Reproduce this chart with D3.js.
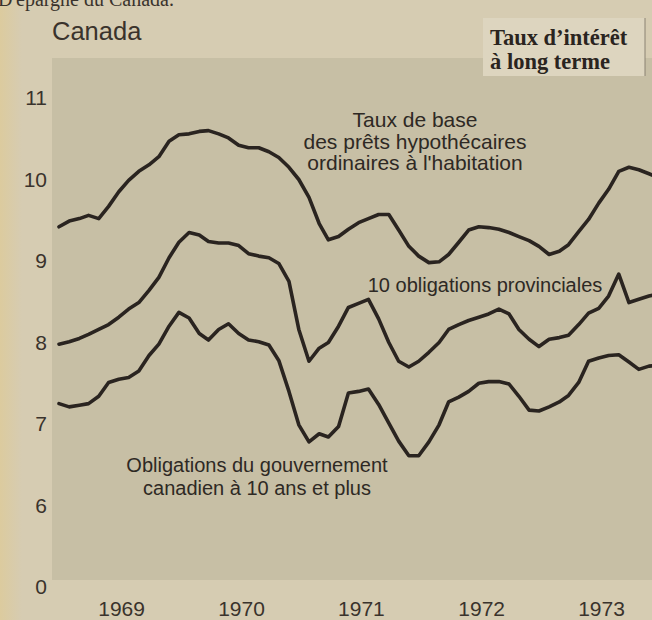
<!DOCTYPE html>
<html><head><meta charset="utf-8">
<script src="https://cdn.jsdelivr.net/npm/d3@7"></script>
<style>
html,body{margin:0;padding:0;background:#d6ccb2;}
svg{display:block;}
</style></head>
<body>
<svg id="chart" width="652" height="620"></svg>
<script>
// Months: Dec 1968 .. Dec 1973 (monthly)
const startYear = 1968, startMonth = 11;
const mortgage = [9.42,9.49,9.52,9.56,9.52,9.67,9.85,9.99,10.10,10.18,10.28,10.47,10.55,10.56,10.59,10.60,10.56,10.51,10.42,10.39,10.39,10.34,10.27,10.15,10.00,9.78,9.46,9.26,9.30,9.39,9.47,9.52,9.57,9.57,9.38,9.18,9.06,8.98,8.99,9.08,9.23,9.38,9.42,9.41,9.39,9.35,9.30,9.25,9.18,9.08,9.12,9.20,9.36,9.51,9.71,9.88,10.10,10.15,10.12,10.07,10.02];
const provincial = [7.98,8.01,8.05,8.10,8.16,8.22,8.31,8.41,8.49,8.64,8.80,9.04,9.23,9.35,9.32,9.24,9.22,9.22,9.19,9.09,9.06,9.04,8.97,8.75,8.16,7.77,7.93,8.00,8.20,8.43,8.48,8.53,8.29,8.00,7.77,7.70,7.77,7.88,8.00,8.16,8.22,8.27,8.31,8.35,8.41,8.35,8.16,8.04,7.95,8.04,8.06,8.09,8.22,8.36,8.42,8.57,8.84,8.49,8.53,8.57,8.60];
const federal = [7.25,7.21,7.23,7.25,7.34,7.51,7.55,7.57,7.65,7.84,7.98,8.20,8.37,8.30,8.11,8.03,8.16,8.23,8.11,8.03,8.01,7.97,7.78,7.40,6.99,6.78,6.88,6.84,6.97,7.38,7.40,7.43,7.24,7.01,6.79,6.61,6.61,6.78,6.99,7.27,7.33,7.40,7.50,7.52,7.52,7.49,7.34,7.17,7.16,7.21,7.27,7.35,7.51,7.77,7.81,7.84,7.85,7.76,7.67,7.71,7.72];
const yearLabels = [1969,1970,1971,1972,1973];
const yTicks = [5,6,7,8,9,10,11];          // 5 = broken-axis zero
const yTickLabels = ["0","6","7","8","9","10","11"];
const seriesLabels = {
  mortgage: ["Taux de base","des prêts hypothécaires","ordinaires à l'habitation"],
  provincial: ["10 obligations provinciales"],
  federal: ["Obligations du gouvernement","canadien à 10 ans et plus"]
};
const title = "Canada";
const boxTitle = ["Taux d’intérêt","à long terme"];

const svg = d3.select("#chart");
const W = 652, H = 620;
const ink = "#2a2420";

const dates = mortgage.map((_,i)=> new Date(startYear, startMonth + i, 1));
const x = d3.scaleTime()
  .domain([new Date(1968,11,1), new Date(1973,10,1)])
  .range([59, 649]);
const y = d3.scaleLinear().domain([5, 11]).range([587, 98]);

// paper
svg.append("rect").attr("width",W).attr("height",H).attr("fill","#d6ccb2");
const grad = svg.append("defs").append("linearGradient").attr("id","lg").attr("x1","0").attr("x2","1");
grad.append("stop").attr("offset","0").attr("stop-color","#dccb9e");
grad.append("stop").attr("offset","1").attr("stop-color","#d6ccb2");
svg.append("rect").attr("width",22).attr("height",H).attr("fill","url(#lg)");
// plot panel
svg.append("rect").attr("x",52).attr("y",58).attr("width",W-52).attr("height",522).attr("fill","#c7bfa5");

// cut-off text at top
svg.append("text").attr("x",-2).attr("y",6).attr("font-family","Liberation Serif").attr("font-size",20)
  .attr("fill","#3a332c").text("D'épargne du Canada.");

// title
svg.append("text").attr("x",52).attr("y",40).attr("font-family","Liberation Sans, Arial").attr("font-size",25.5)
  .attr("fill","#3a332c").text(title);

// box title
svg.append("rect").attr("x",483).attr("y",18).attr("width",162).attr("height",58).attr("fill","#ddd5bf");
svg.append("line").attr("x1",645).attr("x2",645).attr("y1",18).attr("y2",76).attr("stroke","#8a8272").attr("stroke-width",1);
svg.append("text").attr("font-family","Liberation Serif, Times New Roman").attr("font-weight","bold")
  .attr("font-size",22.5).attr("fill","#2a2420")
  .selectAll("tspan").data(boxTitle).join("tspan")
  .attr("x",490).attr("y",(d,i)=>45+i*24).text(d=>d);

// y axis labels
const yAxis = d3.axisLeft(y).tickValues(yTicks).tickSize(0).tickPadding(0)
  .tickFormat((d,i)=>yTickLabels[i]);
const gy = svg.append("g").attr("transform","translate(47,0)").call(yAxis);
gy.select(".domain").remove();
gy.selectAll("text").attr("font-family","Liberation Sans, Arial").attr("font-size",21)
  .attr("fill","#3a332c");

// x axis labels
const xAxis = d3.axisBottom(x).tickValues(yearLabels.map(yr=>new Date(yr,5,8)))
  .tickSize(0).tickPadding(0).tickFormat(d=>d.getFullYear());
const gx = svg.append("g").attr("transform","translate(0,600)").call(xAxis);
gx.select(".domain").remove();
gx.selectAll("text").attr("font-family","Liberation Sans, Arial").attr("font-size",21)
  .attr("fill","#3a332c").attr("dy","0").attr("y",16);

// lines
const line = d3.line().x((d,i)=>x(dates[i])).y(d=>y(d)).curve(d3.curveLinear);
[mortgage, provincial, federal].forEach(s=>{
  svg.append("path").attr("d", line(s)).attr("fill","none").attr("stroke",ink)
    .attr("stroke-width",3.6).attr("stroke-linejoin","round").attr("stroke-linecap","round");
});

// annotations
function label(lines, cx, y0, lh, fs){
  svg.append("text").attr("font-family","Liberation Sans, Arial").attr("font-size",fs)
    .attr("fill","#2e2924").attr("text-anchor","middle")
    .selectAll("tspan").data(lines).join("tspan")
    .attr("x",cx).attr("y",(d,i)=>y0+i*lh).text(d=>d);
}
label(seriesLabels.mortgage, 415, 127, 21.5, 21);
label(seriesLabels.provincial, 485, 292, 22, 20);
label(seriesLabels.federal, 257, 472, 23, 20);
</script>
</body></html>
